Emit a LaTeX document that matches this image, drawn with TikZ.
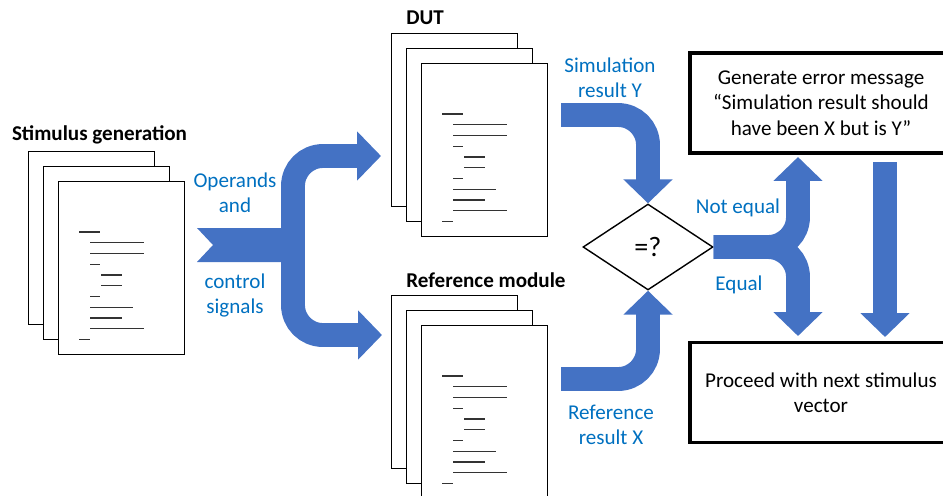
\documentclass[tikz,border=0pt]{standalone}
\usepackage{fontspec}
\setmainfont{Carlito}
\usetikzlibrary{arrows.meta,shapes.geometric}

\definecolor{flowblue}{RGB}{68,114,196}
\definecolor{textblue}{RGB}{0,112,192}

\tikzset{
    page/.style={draw, fill=white, line width=0.8pt, minimum width=2.52cm, minimum height=3.46cm, inner sep=0pt, anchor=north west},
    codeline/.style={black!80, line width=0.6pt},
    title/.style={font=\fontsize{12}{14.4}\selectfont\bfseries},
    lbl/.style={text=textblue, align=center},
    flow/.style={draw=flowblue, line width=13.6pt, rounded corners=17pt, -{Triangle[width=27.2pt,length=13.6pt]}},
    box/.style={draw, line width=2pt, minimum width=5.24cm, minimum height=2cm, align=center}
}

\begin{document}
\begin{tikzpicture}[x=0.02cm, y=-0.02cm, font=\fontsize{12}{14.4}\selectfont]
    \useasboundingbox (0,0) rectangle (943,495);

    % Document stacks (front page top left given)
    \foreach \n/\px/\py in {stim/58/181, dut/421/63, ref/421/325} {
        \node[page] (\n-a) at (\px-30,\py-30) {};
        \node[page] (\n-b) at (\px-15,\py-15) {};
        \node[page] (\n-c) at (\px,\py) {};
        \foreach \i/\s/\e in {0/21/42, 1/32/86, 2/32/86, 3/32/42, 4/43/64, 5/43/64, 6/32/42, 7/32/75, 8/32/64, 9/32/86, 10/21/32}
            \draw[codeline] (\px+\s,\py+51+10.75*\i) -- (\px+\e,\py+51+10.75*\i);
    }

    % Titles
    \node[title] (stimtitle) at (99.5,135) {Stimulus generation};
    \node[title] (duttitle) at (425,18) {DUT};
    \node[title] (reftitle) at (486,280) {Reference module};

    % Result boxes
    \node[box] (err) at (821,103) {Generate error message\\“Simulation result should\\have been X but is Y”};
    \node[box] (next) at (821,392.5) {Proceed with next stimulus\\vector};

    % Labels on the arrows
    \node[lbl] (ops) at (235,193) {Operands\\and};
    \node[lbl] (ctl) at (235,295.5) {control\\signals};
    \node[lbl] (simy) at (610,77.5) {Simulation\\result Y};
    \node[lbl] (refx) at (611,424.5) {Reference\\result X};
    \node[lbl] (neq) at (738,208) {Not equal};
    \node[lbl] (eq) at (739,285) {Equal};

    % Arrow ends
    \coordinate (splithi) at (293,235);
    \coordinate (splitlo) at (293,255);
    \coordinate (dutin) at (381,156);
    \coordinate (refin) at (382,335);
    \coordinate (simout) at (561,115);
    \coordinate (refout) at (561,379);
    \coordinate (errin) at (798,157);
    \coordinate (nextin) at (798,336);
    \coordinate (errout) at (885,162);
    \coordinate (backin) at (885,337);

    % Compare
    \node[diamond, draw, fill=white, line width=0.8pt, minimum width=2.6cm, minimum height=1.72cm, inner sep=0pt, font=\fontsize{16}{19}\selectfont] (cmp) at (648,247) {=?};

    % Stimulus to DUT and reference
    \fill[flowblue] (197,228) -- (213,245) -- (197,262) -- (300,262) -- (300,228) -- cycle;
    \draw[flow] (splitlo) |- (dutin);
    \draw[flow] (splithi) |- (refin);

    % Results to compare
    \draw[flow] (simout) -| (cmp.north);
    \draw[flow] (refout) -| (cmp.south);

    % Not equal / equal
    \draw[flow] (cmp.east) -| (errin);
    \draw[flow] (cmp.east) -| (nextin);
    \draw[flow] (errout) -- (backin);
\end{tikzpicture}
\end{document}
